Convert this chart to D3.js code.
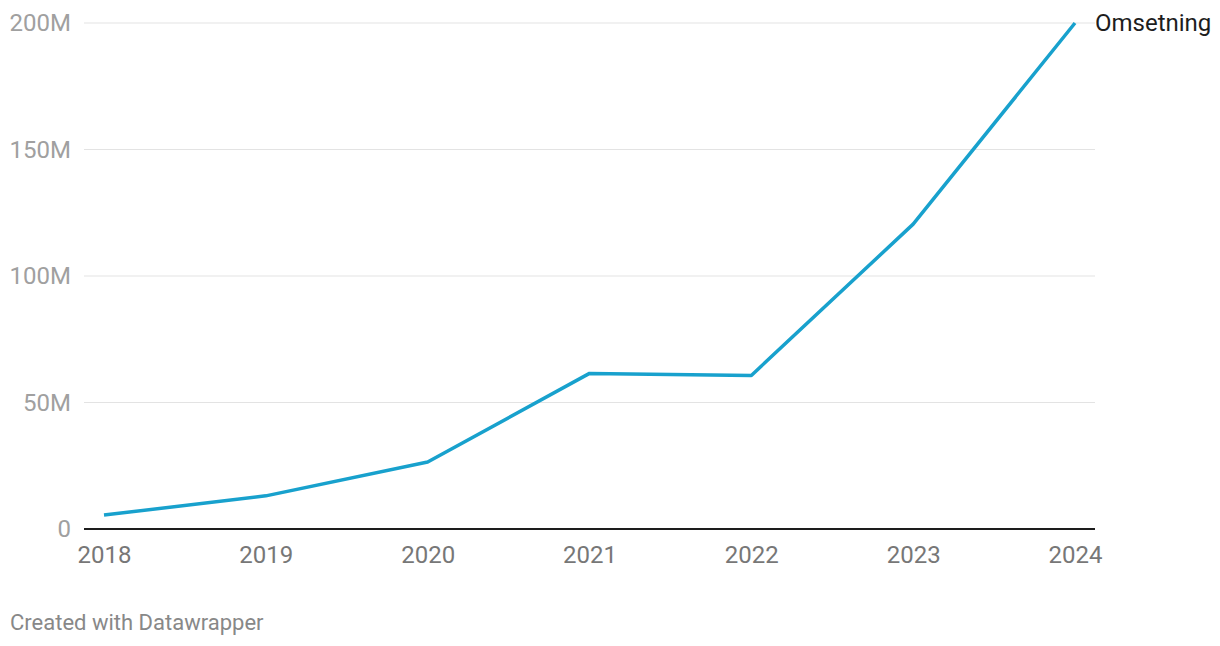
<!DOCTYPE html>
<html><head><meta charset="utf-8">
<script src="https://cdn.jsdelivr.net/npm/d3@7"></script>
<style>
body{margin:0;background:#fff;font-family:Roboto,sans-serif;}
</style></head>
<body><svg id="c" width="1220" height="646"></svg>
<script>
const years = ["2018","2019","2020","2021","2022","2023","2024"];
const omsetning = [5.5, 13.1, 26.5, 61.5, 60.7, 120.5, 200]; // millions
const yTicks = [0, 50, 100, 150, 200];
const seriesName = "Omsetning";

const svg = d3.select("#c");
const x = d3.scalePoint().domain(years).range([104, 1075]);
const y = d3.scaleLinear().domain([0, 200]).range([529, 23]);

// gridlines
svg.append("g").selectAll("line").data(yTicks.filter(d=>d>0)).join("line")
  .attr("x1", 84).attr("x2", 1095)
  .attr("y1", d=>y(d)).attr("y2", d=>y(d))
  .attr("stroke", "#e3e3e3").attr("stroke-width", 1);

// y labels
svg.append("g").selectAll("text").data(yTicks).join("text")
  .attr("x", 71).attr("y", d=>y(d)).attr("dy", "0.35em")
  .attr("text-anchor", "end").attr("font-size", 24).attr("fill", "#a0a0a0")
  .text(d => d === 0 ? "0" : d + "M");

// baseline
svg.append("line").attr("x1", 84).attr("x2", 1095)
  .attr("y1", y(0)).attr("y2", y(0)).attr("stroke", "#1d1d1d").attr("stroke-width", 2);

// x axis labels
const xAxis = d3.axisBottom(x).tickSize(0).tickPadding(0);
const gx = svg.append("g").attr("transform", `translate(0,${y(0)})`).call(xAxis);
gx.select(".domain").remove();
gx.selectAll("text").attr("font-size", 24).attr("fill", "#777").attr("font-family", "Roboto")
  .attr("dy", null).attr("y", 34);

// line
const line = d3.line().x((d,i)=>x(years[i])).y(d=>y(d));
svg.append("path").datum(omsetning).attr("d", line)
  .attr("fill", "none").attr("stroke", "#18a1cd").attr("stroke-width", 3.5)
  .attr("stroke-linejoin", "round");

// label
svg.append("text").attr("x", x(years[years.length-1]) + 20).attr("y", y(omsetning[omsetning.length-1]))
  .attr("dy", "0.35em").attr("font-size", 24).attr("fill", "#1d1d1d").text(seriesName);

// footer
svg.append("text").attr("x", 10).attr("y", 630).attr("font-size", 22).attr("fill", "#888")
  .text("Created with Datawrapper");
</script></body></html>
